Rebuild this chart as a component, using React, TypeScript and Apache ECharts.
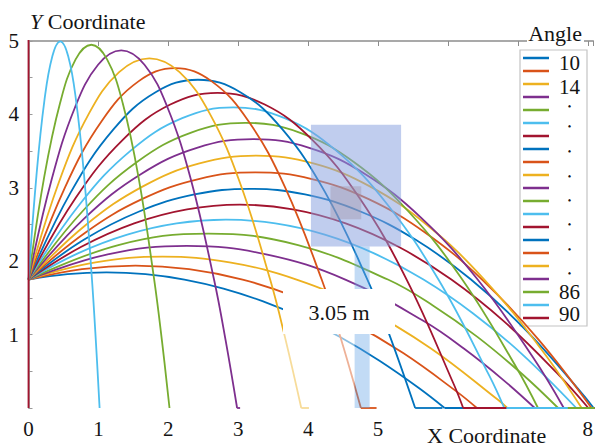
import React, { useEffect, useRef } from 'react';
import * as echarts from 'echarts';

// Launch angles (degrees), one trajectory per angle
const angles = [10, 14, 18, 22, 26, 30, 34, 38, 42, 46, 50, 54, 58, 62, 66, 70, 74, 78, 82, 86, 90];

// Trajectory points [x (m), y (m)]
const traj10 = [[0, 1.75], [0.558, 1.824], [1.116, 1.848], [1.674, 1.824], [2.231, 1.75], [2.789, 1.627], [3.347, 1.455], [3.905, 1.234], [4.463, 0.963], [5.021, 0.643], [5.579, 0.275], [5.952, 0]];
const traj14 = [[0, 1.75], [0.766, 1.893], [1.531, 1.941], [2.297, 1.893], [3.063, 1.75], [3.829, 1.511], [4.594, 1.177], [5.36, 0.748], [6.126, 0.223], [6.414, 0]];
const traj18 = [[0, 1.75], [0.959, 1.984], [1.917, 2.062], [2.876, 1.984], [3.835, 1.75], [4.794, 1.361], [5.752, 0.815], [6.711, 0.115], [6.85, 0]];
const traj22 = [[0, 1.75], [1.133, 2.093], [2.266, 2.208], [3.399, 2.093], [4.532, 1.75], [5.665, 1.178], [6.232, 0.806], [6.798, 0.377], [7.242, 0]];
const traj26 = [[0, 1.75], [1.285, 2.22], [2.571, 2.377], [3.856, 2.22], [5.141, 1.75], [5.784, 1.397], [6.426, 0.966], [7.069, 0.457], [7.576, 0]];
const traj30 = [[0, 1.75], [0.706, 2.107], [1.413, 2.362], [2.119, 2.515], [2.825, 2.566], [3.531, 2.515], [4.238, 2.362], [4.944, 2.107], [5.65, 1.75], [6.356, 1.291], [7.063, 0.731], [7.836, 0]];
const traj34 = [[0, 1.75], [0.756, 2.196], [1.512, 2.515], [2.268, 2.706], [3.025, 2.77], [3.781, 2.706], [4.537, 2.515], [5.293, 2.196], [6.049, 1.75], [6.806, 1.176], [7.561, 0.475], [8.009, 0]];
const traj38 = [[0, 1.75], [0.791, 2.291], [1.583, 2.677], [2.374, 2.909], [3.165, 2.986], [3.956, 2.909], [4.748, 2.677], [5.539, 2.291], [6.33, 1.75], [7.121, 1.055], [7.913, 0.204], [8.084, 0]];
const traj42 = [[0, 1.75], [0.811, 2.389], [1.622, 2.845], [2.433, 3.119], [3.244, 3.211], [4.055, 3.119], [4.866, 2.845], [5.677, 2.389], [6.488, 1.75], [7.299, 0.928], [8.054, 0]];
const traj46 = [[0, 1.75], [0.815, 2.489], [1.63, 3.016], [2.445, 3.332], [3.26, 3.438], [4.075, 3.332], [4.89, 3.016], [5.705, 2.489], [6.52, 1.75], [7.335, 0.801], [7.913, 0]];
const traj50 = [[0, 1.75], [0.803, 2.588], [1.606, 3.186], [2.409, 3.545], [3.213, 3.664], [4.016, 3.545], [4.819, 3.186], [5.622, 2.588], [6.425, 1.75], [7.228, 0.673], [7.657, 0]];
const traj54 = [[0, 1.75], [0.776, 2.684], [1.551, 3.351], [2.327, 3.752], [3.102, 3.885], [3.878, 3.752], [4.654, 3.351], [5.429, 2.684], [6.205, 1.75], [6.981, 0.549], [7.288, 0]];
const traj58 = [[0, 1.75], [0.733, 2.776], [1.466, 3.51], [2.199, 3.949], [2.932, 4.096], [3.665, 3.949], [4.398, 3.51], [5.131, 2.776], [5.864, 1.75], [6.597, 0.43], [6.806, 0]];
const traj62 = [[0, 1.75], [0.676, 2.863], [1.352, 3.657], [2.028, 4.134], [2.704, 4.293], [3.38, 4.134], [4.056, 3.657], [4.733, 2.863], [5.409, 1.75], [6.085, 0.32], [6.218, 0]];
const traj66 = [[0, 1.75], [0.606, 2.941], [1.212, 3.792], [1.818, 4.302], [2.424, 4.472], [3.03, 4.302], [3.636, 3.792], [4.242, 2.941], [4.848, 1.75], [5.151, 1.027], [5.531, 0]];
const traj70 = [[0, 1.75], [0.524, 3.01], [1.048, 3.91], [1.573, 4.45], [2.097, 4.63], [2.621, 4.45], [3.145, 3.91], [3.669, 3.01], [4.194, 1.75], [4.456, 0.985], [4.755, 0]];
const traj74 = [[0, 1.75], [0.432, 3.069], [0.864, 4.011], [1.296, 4.576], [1.729, 4.764], [2.161, 4.576], [2.593, 4.011], [3.025, 3.069], [3.457, 1.75], [3.673, 0.949], [3.902, 0]];
const traj78 = [[0, 1.75], [0.332, 3.115], [0.663, 4.091], [0.995, 4.676], [1.327, 4.871], [1.659, 4.676], [1.99, 4.091], [2.322, 3.115], [2.654, 1.75], [2.82, 0.921], [2.984, 0]];
const traj82 = [[0, 1.75], [0.225, 3.149], [0.45, 4.149], [0.674, 4.749], [0.899, 4.949], [1.124, 4.749], [1.349, 4.149], [1.573, 3.149], [1.798, 1.75], [1.911, 0.9], [2.017, 0]];
const traj86 = [[0, 1.75], [0.114, 3.17], [0.227, 4.185], [0.341, 4.793], [0.454, 4.996], [0.568, 4.793], [0.681, 4.185], [0.795, 3.17], [0.908, 1.75], [0.965, 0.888], [1.017, 0]];
const traj90 = [[0, 1.75], [0, 5.012], [0, 0]];

const trajectories = [traj10, traj14, traj18, traj22, traj26, traj30, traj34, traj38, traj42, traj46, traj50, traj54, traj58, traj62, traj66, traj70, traj74, traj78, traj82, traj86, traj90];

// After landing, the ball keeps sliding along y = 0 (start / end x, m)
const rollStart = [5.952, 6.414, 6.85, 7.242, 7.576, 7.836, 8.009, null, 8.054, 7.913, 7.657, 7.288, 6.806, 6.218, 5.531, 4.755, 3.902, 2.984, null, null, null];
const rollEnd = [8.1, 8.1, 8.1, 8.1, 8.1, 8.1, 8.1, null, 8.1, 8.1, 8.1, 8.1, 7.715, 6.836, 5.921, 4.979, 4.012, 3.027, null, null, null];

// Axis ticks
const xTickLabels = ['0', '1', '2', '3', '4', '5', '', '', '8'];
const yTickLabels = ['1', '2', '3', '4', '5'];

// Legend label texts as they appear in the scan
const legendTexts = ['10', '14', '.', '.', '.', '.', '.', '.', '.', '.', '86', '90'];

// Backboard / pole in data coordinates (m)
const boardX = [4.04, 5.33];
const boardY = [2.2, 3.86];
const boardInnerX = [4.32, 4.76];
const boardInnerY = [2.57, 3.02];
const poleX = [4.665, 4.88];
const poleY = [0, 2.2];
const heightLabel = '3.05 m';

const palette = ['#0072BD', '#D95319', '#EDB120', '#7E2F8E', '#77AC30', '#4DBEEE', '#A2142F'];
const FONT = 'Liberation Serif';
const TXT = '#141414';
const FS = 22;

export default function App() {
  const ref = useRef<HTMLDivElement>(null);
  useEffect(() => {
    if (!ref.current) return;
    const chart = echarts.init(ref.current, undefined, { renderer: 'svg' });
    const series: any[] = [];
    angles.forEach((ang, i) => {
      const color = palette[i % palette.length];
      series.push({
        name: String(ang), type: 'line', data: trajectories[i],
        smooth: ang === 90 ? false : 0.4, symbol: 'none', color,
        lineStyle: { color, width: 1.8 }, silent: true,
      });
      if (rollStart[i] !== null) {
        series.push({
          name: String(ang), type: 'line', data: [[rollStart[i], 0], [rollEnd[i], 0]],
          symbol: 'none', color, lineStyle: { color, width: 1.8 }, silent: true,
        });
      }
    });

    const legendLabelY = [63, 87, 104, 124.7, 149.7, 174.7, 198.7, 222.7, 247.7, 271.7, 292, 314];
    const graphicEls: any[] = [
      { id: 'lgbox', type: 'rect', z: 3, shape: { x: 520, y: 50, width: 67, height: 276 }, style: { fill: '#fff', stroke: '#c4c4c4', lineWidth: 1.2 } },
      { id: 'anglebg', type: 'rect', z: 5, shape: { x: 527, y: 38, width: 57, height: 7 }, style: { fill: '#fff' } },
      { id: 'angle', type: 'text', z: 6, x: 555, y: 33, style: { text: 'Angle', fontSize: FS, fontFamily: FONT, fill: TXT, align: 'center', verticalAlign: 'middle' } },
      { id: 'ytitle', type: 'text', z: 6, x: 30, y: 21, style: { text: '{i|Y} Coordinate', fontSize: FS, fontFamily: FONT, fill: TXT, align: 'left', verticalAlign: 'middle', rich: { i: { fontStyle: 'italic', fontSize: FS, fontFamily: FONT, fill: TXT } } } },
      { id: 'xtitle', type: 'text', z: 6, x: 427, y: 435, style: { text: 'X Coordinate', fontSize: FS, fontFamily: FONT, fill: TXT, align: 'left', verticalAlign: 'middle' } },
    ];
    legendTexts.forEach((t, i) => {
      const dot = t === '.';
      graphicEls.push({
        id: 'lgt' + i, type: 'text', z: 6, x: 569.5, y: legendLabelY[i],
        style: dot
          ? { text: t, fontSize: 8, fontWeight: 'bold', fontFamily: FONT, fill: TXT, stroke: TXT, lineWidth: 1.1, align: 'center', verticalAlign: 'middle' }
          : { text: t, fontSize: 21, fontFamily: FONT, fill: TXT, align: 'center', verticalAlign: 'middle' },
      });
    });

    chart.setOption({
      animation: false,
      backgroundColor: '#fff',
      grid: { left: 28.5, top: 41, right: 0, bottom: 38 },
      xAxis: [
        {
          type: 'value', min: 0, max: 8.08, interval: 1, position: 'bottom',
          axisLine: { show: false }, axisTick: { show: false }, splitLine: { show: false },
          axisLabel: { fontSize: 21, fontFamily: FONT, color: TXT, margin: 10, formatter: (v: number) => xTickLabels[Math.round(v)] ?? '' },
        },
        {
          type: 'value', min: 0, max: 8.08, interval: 1, position: 'top',
          axisLine: { show: true, lineStyle: { color: '#8c8c8c', width: 1.5 } },
          axisTick: { show: true, inside: true, length: 5, lineStyle: { color: '#8c8c8c' } },
          axisLabel: { show: false }, splitLine: { show: false },
        },
      ],
      yAxis: {
        type: 'value', min: 0, max: 5, interval: 0.5,
        axisLine: { show: true, lineStyle: { color: '#8c8c8c', width: 1.5 } },
        axisTick: { show: true, inside: true, length: 4, lineStyle: { color: '#9a9a9a' } },
        splitLine: { show: false },
        axisLabel: {
          fontSize: 21, fontFamily: FONT, color: TXT, margin: 9.5,
          formatter: (v: number) => (Number.isInteger(v) && v > 0 ? yTickLabels[v - 1] : ''),
        },
      },
      legend: {
        data: angles.map(String), orient: 'vertical', left: 523, top: 53, padding: 0,
        itemWidth: 26, itemHeight: 2.5, itemGap: 3, icon: 'rect', selectedMode: false,
        formatter: () => ' ', textStyle: { fontSize: 10, lineHeight: 10 }, z: 4,
      },
      graphic: { elements: graphicEls },
      series,
    });

    const p = (x: number, y: number) => chart.convertToPixel({ xAxisIndex: 0, yAxisIndex: 0 }, [x, y]) as number[];
    const rectFrom = (xs: number[], ys: number[]) => {
      const a = p(xs[0], ys[1]);
      const b = p(xs[1], ys[0]);
      return { x: a[0], y: a[1], width: b[0] - a[0], height: b[1] - a[1] };
    };
    const box = { x: 283, y: 289, width: 112, height: 45 };
    const washA = p(0, 0);
    const poleR = rectFrom(poleX, poleY);
    chart.setOption({
      graphic: {
        elements: [
          { id: 'board', type: 'rect', z: 6, shape: rectFrom(boardX, boardY), style: { fill: 'rgba(135,160,222,0.52)' } },
          { id: 'boardIn', type: 'rect', z: 6, shape: rectFrom(boardInnerX, boardInnerY), style: { fill: 'rgba(160,145,165,0.4)' } },
          { id: 'wash', type: 'rect', z: 6, shape: { x: box.x, y: box.y + box.height, width: poleR.x - box.x, height: washA[1] - (box.y + box.height) + 1 }, style: { fill: 'rgba(255,255,255,0.55)' } },
          { id: 'pole', type: 'rect', z: 7, shape: poleR, style: { fill: 'rgba(110,170,230,0.42)' } },
          { id: 'hbox', type: 'rect', z: 8, shape: box, style: { fill: '#fff' } },
          { id: 'htext', type: 'text', z: 9, x: box.x + 56, y: 312.5, style: { text: heightLabel, fontSize: FS, fontFamily: FONT, fill: TXT, align: 'center', verticalAlign: 'middle' } },
        ],
      },
    });
    return () => chart.dispose();
  }, []);
  return <div ref={ref} style={{ position: 'fixed', left: 0, top: 0, width: 596, height: 446, background: '#fff' }} />;
}
